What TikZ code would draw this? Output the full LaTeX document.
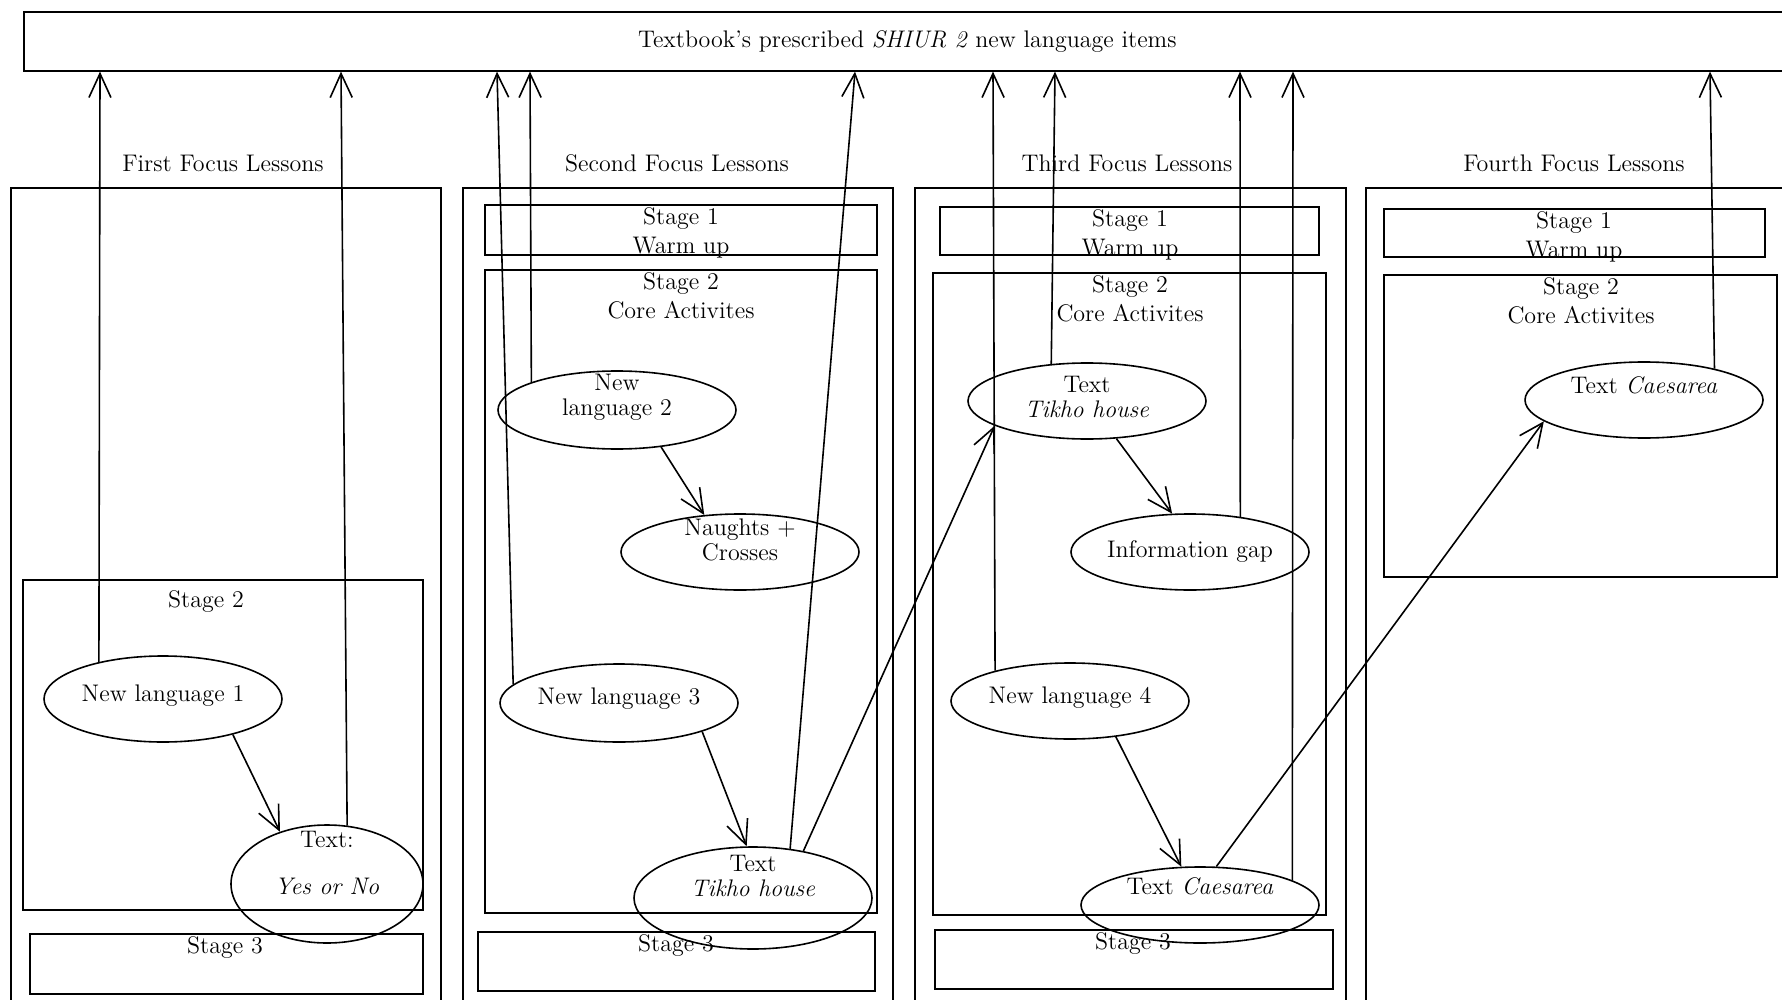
\documentclass[tikz,border=0pt]{standalone}
\usetikzlibrary{arrows.meta,shapes.geometric}
\begin{document}
\begin{tikzpicture}[
    x=0.5pt, y=-0.5pt,
    frame/.style={draw, thick},
    words/.style={align=center, inner sep=0pt, font=\fontsize{12}{12.5}\selectfont},
    heading/.style={inner sep=0pt, font=\fontsize{12}{15}\selectfont},
    stagetext/.style={anchor=north, align=center, inner sep=1pt, font=\fontsize{12}{14.5}\selectfont},
    bubble/.style={ellipse, draw, thick, inner sep=0pt, minimum width=119pt, minimum height=#1},
    link/.style={thick, -{Straight Barb[length=12pt,width=11pt]}}
    ]
\useasboundingbox (0,0) rectangle (1782,1000);
\clip (0,0) rectangle (1782,1000);

% the textbook strip
\node[frame, anchor=north west, minimum width=883.5pt, minimum height=29.5pt,
      font=\fontsize{12}{15}\selectfont] (items) at (23,11)
      {Textbook's prescribed \textit{SHIUR 2} new language items};

% lesson columns
\node[heading] (headA) at (223,163) {First Focus Lessons};
\node[heading] (headB) at (677,163) {Second Focus Lessons};
\node[heading] (headC) at (1127,163) {Third Focus Lessons};
\node[heading] (headD) at (1574,163) {Fourth Focus Lessons};
\draw[frame] (11,188) rectangle (441,1010);
\draw[frame] (463,188) rectangle (893,1010);
\draw[frame, line width=1.4pt] (915,188) rectangle (1346,1010);
\draw[frame] (1366,188) rectangle (1800,1010);

% stages
\draw[frame] (23,580) rectangle (423,910);
\node[stagetext] (coreA) at (206,588) {Stage 2};
\draw[frame] (30,934) rectangle (423,994);
\node[stagetext] (endA) at (225,934) {Stage 3};

\draw[frame] (485,205) rectangle (877,255);
\node[stagetext] (warmB) at (681,205) {Stage 1\\Warm up};
\draw[frame] (485,270) rectangle (877,913);
\node[stagetext] (coreB) at (681,270) {Stage 2\\Core Activites};
\draw[frame] (478,932) rectangle (875,991);
\node[stagetext] (endB) at (676,932) {Stage 3};

\draw[frame] (940,207) rectangle (1319,255);
\node[stagetext] (warmC) at (1130,207) {Stage 1\\Warm up};
\draw[frame] (933,273) rectangle (1326,915);
\node[stagetext] (coreC) at (1130,273) {Stage 2\\Core Activites};
\draw[frame] (935,930) rectangle (1333,989);
\node[stagetext] (endC) at (1133,930) {Stage 3};

\draw[frame] (1384,209) rectangle (1765,257);
\node[stagetext] (warmD) at (1574,209) {Stage 1\\Warm up};
\draw[frame] (1384,275) rectangle (1777,577);
\node[stagetext] (coreD) at (1581,275) {Stage 2\\Core Activites};

% activities
\node[bubble=43pt] (nlA) at (163,699) {};
\node[words] (nlAt) at ([yshift=1.5pt]nlA) {New language 1};
\node[bubble=59pt, minimum width=96pt] (yesno) at (327,884) {};
\node[words] (yesnot) at ([yshift=10.5pt]yesno) {Text:\\[11pt]\textit{Yes or No}};

\node[bubble=39pt] (nlB) at (617,410) {};
\node[words] (nlBt) at ([yshift=6.5pt]nlB) {New\\language 2};
\node[bubble=38pt] (naughts) at (740,552) {};
\node[words] (naughtst) at ([yshift=6pt]naughts) {Naughts +\\Crosses};
\node[bubble=39pt] (nlC) at (619,703) {};
\node[words] (nlCt) at ([yshift=2pt]nlC) {New language 3};
\node[bubble=51pt] (tikhoB) at (753,898) {};
\node[words] (tikhoBt) at ([yshift=11pt]tikhoB) {Text\\\textit{Tikho house}};

\node[bubble=38pt] (tikhoC) at (1087,401) {};
\node[words] (tikhoCt) at ([yshift=2pt]tikhoC) {Text\\\textit{Tikho house}};
\node[bubble=38pt] (infogap) at (1190,552) {};
\node[words] (infogapt) at (infogap) {Information gap};
\node[bubble=38pt] (nlD) at (1070,701) {};
\node[words] (nlDt) at ([yshift=1.5pt]nlD) {New language 4};
\node[bubble=38pt] (caesC) at (1200,905) {};
\node[words] (caesCt) at ([yshift=9.5pt]caesC) {Text \textit{Caesarea}};

\node[bubble=38pt] (caesD) at (1644,400) {};
\node[words] (caesDt) at ([yshift=7.5pt]caesD) {Text \textit{Caesarea}};

% inside the lessons
\draw[link] (nlA.-27) -- (yesno.132);
\draw[link] (nlB.-40) -- (naughts.134);
\draw[link] (nlC.-19) -- (tikhoB.97);
\draw[link] (tikhoC.-52) -- (infogap.115);
\draw[link] (nlD.-38) -- (caesC.116);
\draw[link] (tikhoB.43) -- (tikhoC.195);
\draw[link] (caesC.67) -- (caesD.192);

% back to the textbook
\draw[link] (nlA.150) -- (100,0 |- items.south);
\draw[link] (yesno.71) -- (341,0 |- items.south);
\draw[link] (nlC.170) -- (497,0 |- items.south);
\draw[link] (nlB.162) -- (530,0 |- items.south);
\draw[link] (tikhoB.53) -- (855,0 |- items.south);
\draw[link] (nlD.158) -- (993,0 |- items.south);
\draw[link] (tikhoC.134) -- (1055,0 |- items.south);
\draw[link] (infogap.35) -- (1240,0 |- items.south);
\draw[link] (caesC.15) -- (1293,0 |- items.south);
\draw[link] (caesD.24) -- (1710,0 |- items.south);
\end{tikzpicture}
\end{document}
